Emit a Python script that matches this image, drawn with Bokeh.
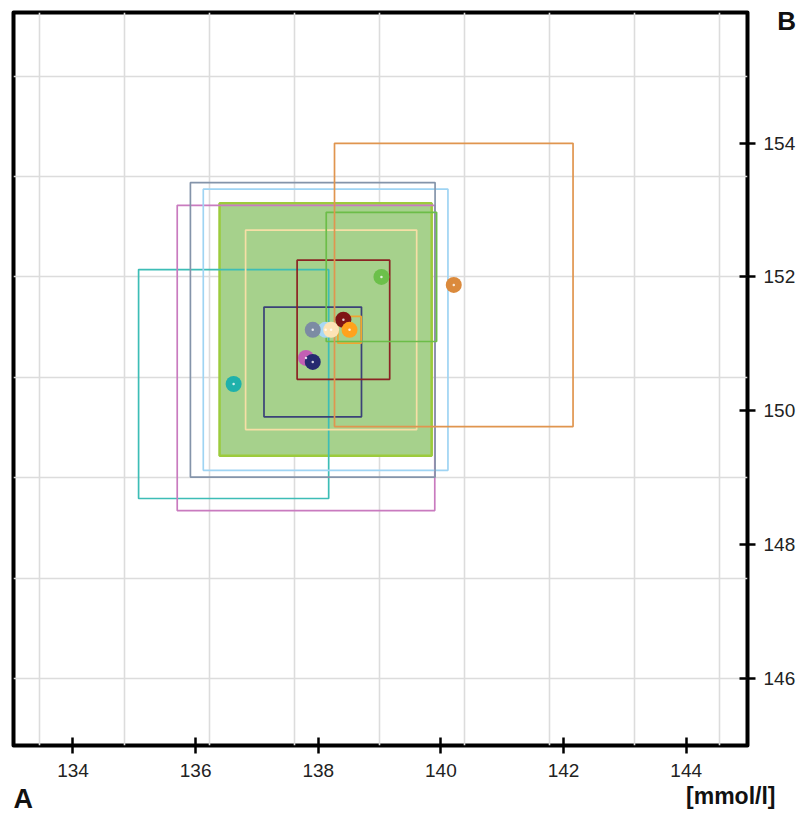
from bokeh.plotting import figure
from bokeh.models import ColumnDataSource, FixedTicker, Title, Range1d
from bokeh.embed import file_html
from bokeh.resources import INLINE

# ---- data ----
names  = ["teal", "magenta", "navy", "lightblue", "slate", "cream", "darkred", "gold", "green", "orange"]
cx     = [136.62, 137.80, 137.91, 138.12, 137.91, 138.21, 138.41, 138.51, 139.03, 140.21]
cy     = [150.40, 150.79, 150.73, 151.21, 151.21, 151.21, 151.36, 151.21, 152.00, 151.88]
half_x = [1.55, 2.10, 0.795, 1.995, 1.995, 1.395, 0.755, 0.19, 0.90, 1.945]
half_y = [1.71, 2.28, 0.82, 2.10, 2.20, 1.49, 0.89, 0.20, 0.965, 2.115]
rect_colors  = ["#3dbdb6", "#c97bbf", "#3b4178", "#9fd4f3", "#8494aa", "#f6dfa6", "#8b2323", "#f0a530", "#6cbd48", "#e0954f"]
point_colors = ["#1fb1ab", "#c25fb4", "#262a70", "#a8d8f5", "#7c8ba3", "#fde3b5", "#7f1515", "#ffa21c", "#6cc04a", "#db8a3c"]

# consensus (filled) box
all_x, all_y, all_hx, all_hy = [138.12], [151.215], [1.73], [1.885]

x_ticks = [134, 136, 138, 140, 142, 144]
y_ticks = [146, 148, 150, 152, 154]
x_grid = [133.45, 134.84, 136.23, 137.61, 139.00, 140.39, 141.77, 143.16, 144.55]
y_grid = [146.0, 147.5, 149.0, 150.5, 152.0, 153.5, 155.0]

x_name, y_name, unit = "A", "B", "[mmol/l]"

FONT = "Liberation Sans"

p = figure(width=798, height=817, output_backend="svg", toolbar_location=None,
           x_range=Range1d(133.03, 145.0), y_range=Range1d(145.0, 155.95),
           y_axis_location="right",
           min_border_left=13, min_border_top=12, min_border_right=50, min_border_bottom=72)

p.outline_line_color = "black"
p.outline_line_width = 4
p.outline_line_join = "round"
p.background_fill_color = "white"
p.border_fill_color = "white"

for ax, ticks in ((p.xaxis[0], x_ticks), (p.yaxis[0], y_ticks)):
    ax.ticker = FixedTicker(ticks=ticks)
    ax.axis_line_color = None
    ax.major_tick_line_color = "black"
    ax.major_tick_line_width = 2.5
    ax.major_tick_in = 8
    ax.major_tick_out = 8
    ax.minor_tick_line_color = None
    ax.major_label_text_font = FONT
    ax.major_label_text_font_size = "19px"
    ax.major_label_text_color = "#222222"
    ax.axis_label_text_font = FONT
    ax.axis_label_text_font_style = "bold"
    ax.axis_label_text_font_size = "26px"
    ax.axis_label_text_color = "#111111"

xa = p.xaxis[0]
xa.major_label_standoff = 10

ya = p.yaxis[0]
ya.major_label_standoff = 8
ya.axis_label = "\n" + y_name
ya.axis_label_orientation = "horizontal"
ya.axis_label_align = "end"
ya.axis_label_standoff = -21
ya.axis_label_text_line_height = 0.55

# unit text at the bottom right, then the x-axis name at the bottom left
p.add_layout(Title(text=unit, align="right", offset=-28, standoff=2, vertical_align="bottom",
                   text_font=FONT, text_font_style="bold", text_font_size="23px",
                   text_color="#111111"), "below")
p.add_layout(Title(text=x_name, align="left", offset=0, standoff=-51, vertical_align="top",
                   text_font=FONT, text_font_style="bold", text_font_size="27px",
                   text_color="#111111"), "below")

p.xgrid.ticker = FixedTicker(ticks=x_grid)
p.ygrid.ticker = FixedTicker(ticks=y_grid)
for g in (p.xgrid, p.ygrid):
    g.grid_line_color = "#dcdcdc"
    g.grid_line_width = 1.6

# filled consensus rectangle
src_all = ColumnDataSource(dict(x=all_x, y=all_y, w=[2 * h for h in all_hx], h=[2 * h for h in all_hy]))
p.rect("x", "y", "w", "h", source=src_all, fill_color="#a6d18c", line_color="#9ccb3c", line_width=2.5)

src = ColumnDataSource(dict(x=cx, y=cy, w=[2 * h for h in half_x], h=[2 * h for h in half_y],
                            rc=rect_colors, pc=point_colors, name=names))
p.rect("x", "y", "w", "h", source=src, fill_color=None, line_color="rc", line_width=1.7)
p.scatter("x", "y", source=src, marker="circle", size=16, fill_color="pc", line_color=None)
p.scatter("x", "y", source=src, marker="circle", size=2.5, fill_color="white", line_color=None, fill_alpha=0.8)

open("out.html", "w").write(file_html(p, INLINE))
